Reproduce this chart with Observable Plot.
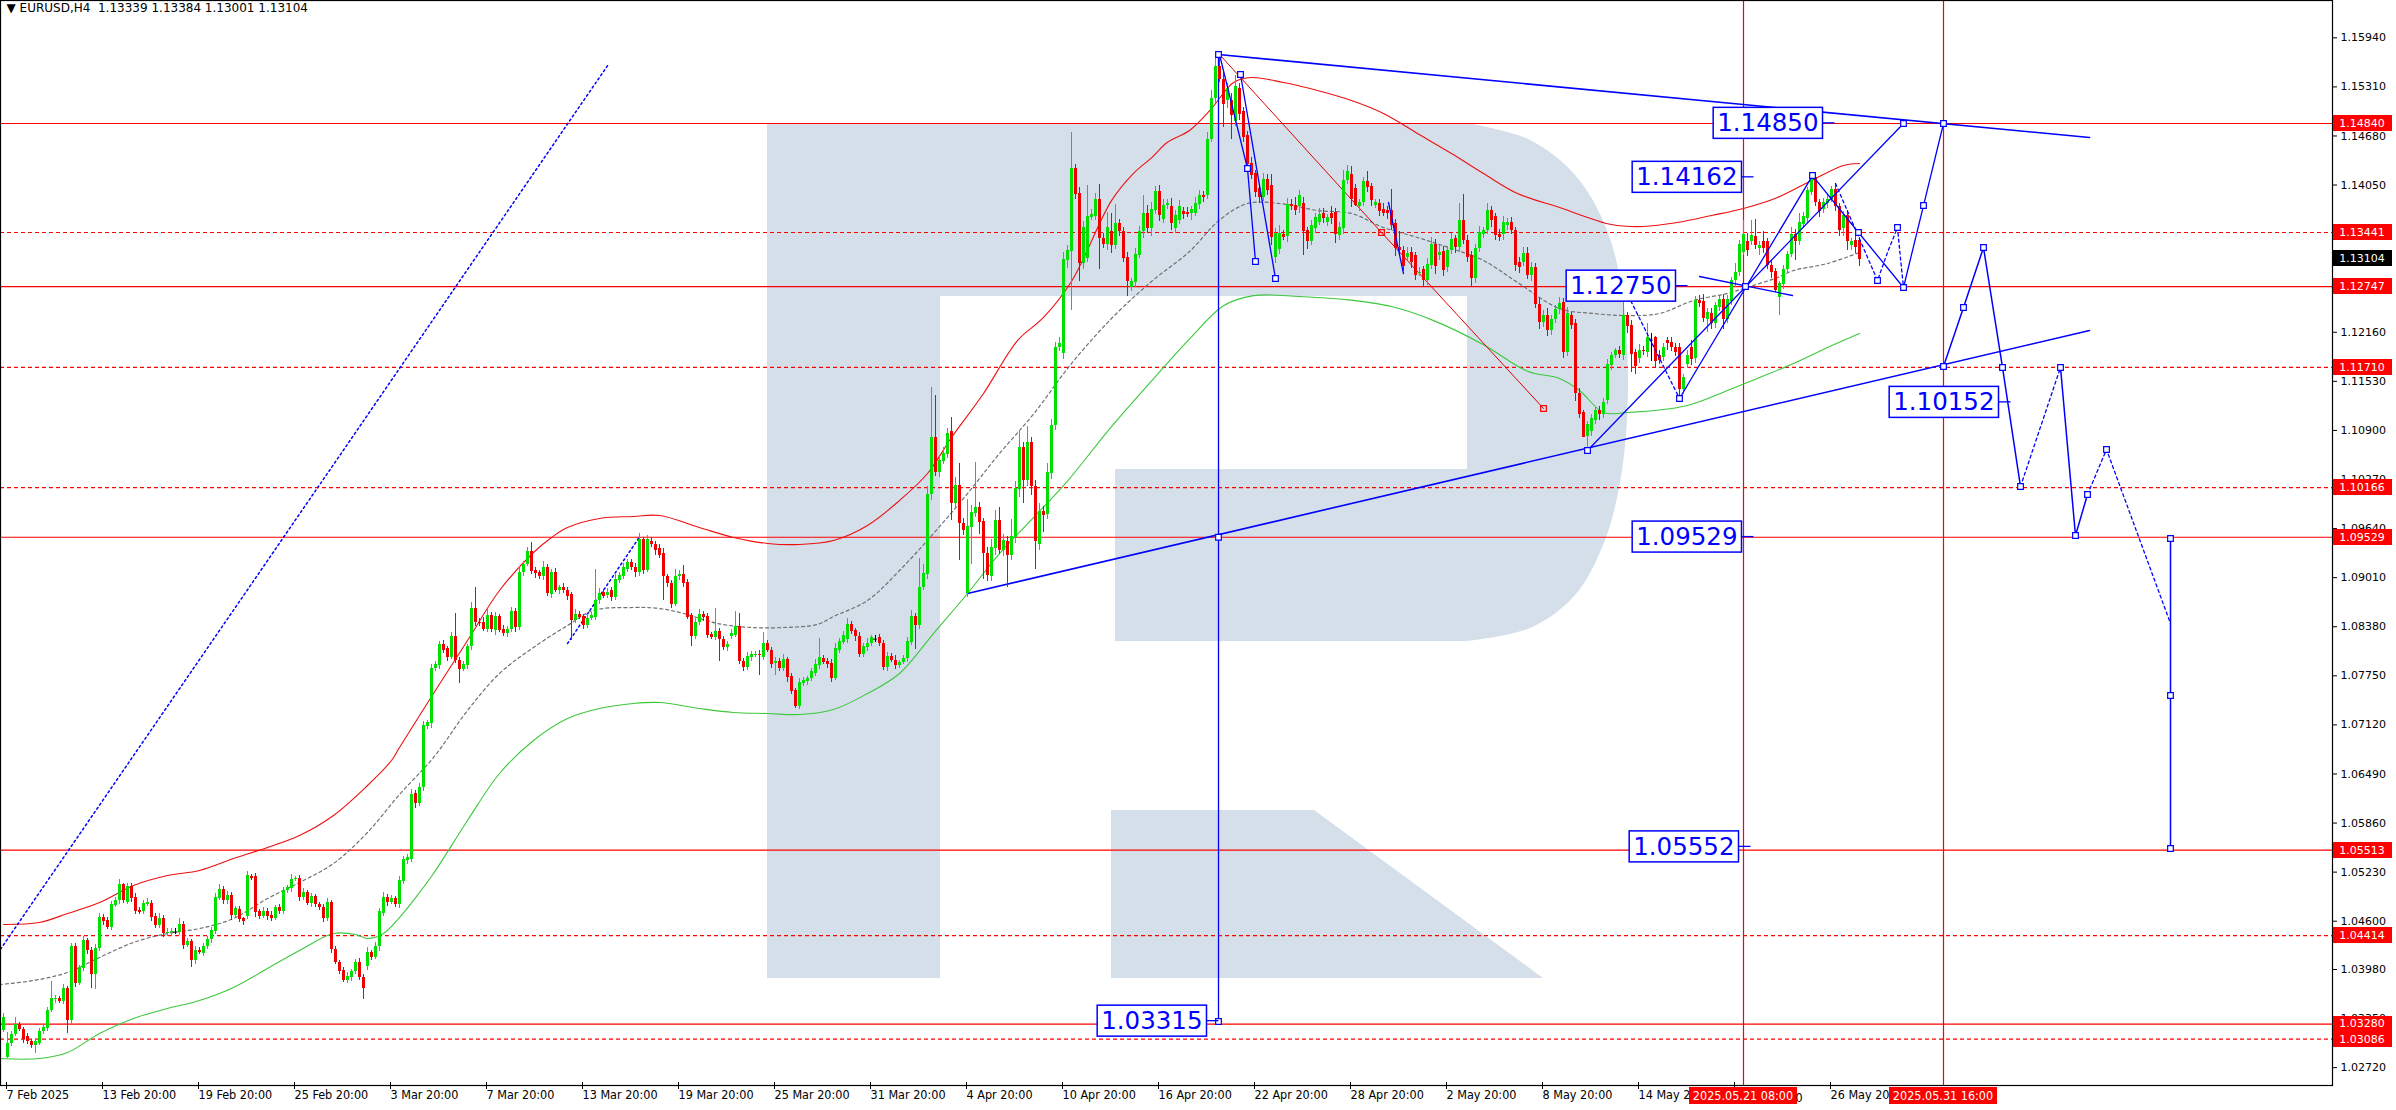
<!DOCTYPE html>
<html><head><meta charset="utf-8">
<script src="https://cdn.jsdelivr.net/npm/d3@7"></script>
<script src="https://cdn.jsdelivr.net/npm/@observablehq/plot@0.6"></script>
<style>
html,body{margin:0;padding:0;background:#fff;}
#chart{position:relative;width:2396px;height:1110px;overflow:hidden;}
</style></head><body><div id="chart"></div>
<script>
// ---- EURUSD H4 candles: prices in pips above 1.0000 (e.g. 1337 -> 1.1337), bar 0 = 7 Feb 2025 20:00
const opens = [
320,285,303,315,328,321,312,306,300,303, 318,322,345,359,361,357,373,332,427,380,
399,435,422,392,425,465,461,452,480,487, 507,484,505,490,474,473,482,483,466,454,
464,444,445,446,446,456,429,434,409,422, 419,427,436,447,489,501,486,493,467,475,
463,466,517,517,472,466,472,467,464,477, 472,499,502,514,515,491,497,483,492,481,
478,464,484,424,407,397,384,388,395,407, 388,402,420,414,427,470,491,484,489,481,
511,538,539,624,611,631,710,714,784,788, 815,810,799,825,795,783,788,812,861,844,
844,835,852,833,851,834,829,834,857,837, 907,918,934,910,907,902,914,880,907,884,
888,885,879,846,854,851,840,849,850,872, 882,878,885,875,898,902,912,921,914,907,
950,910,948,944,938,932,902,894,867,902, 905,895,852,825,843,854,851,828,824,832,
821,811,825,827,838,793,786,798,801,802, 799,816,808,791,793,784,796,774,756,735,
765,768,771,778,788,797,794,791,772,808, 818,822,841,833,825,802,811,816,822,824,
817,786,800,795,788,792,797,818,851,840, 888,905,1008,1081,1036,1050,1059,1088,996,1019,
971,881,966,984,991,973,932,902,939,975, 936,948,929,953,1014,1068,1026,1075,1018,944,
986,982,1035,1096,1196,1189,1308,1320,1426,1394, 1304,1311,1363,1365,1386,1337,1329,1345,1327,1355,
1346,1312,1273,1280,1315,1345,1369,1349,1372,1397, 1361,1379,1378,1349,1359,1371,1370,1368,1369,1380,
1392,1392,1464,1516,1557,1541,1513,1514,1486,1529, 1499,1469,1433,1420,1400,1389,1412,1404,1312,1322,
1342,1339,1380,1379,1377,1381,1347,1332,1349,1357, 1369,1357,1369,1370,1340,1349,1411,1419,1400,1377,
1383,1409,1403,1379,1381,1373,1372,1372,1355,1325, 1321,1312,1319,1314,1291,1296,1282,1302,1329,1314,
1320,1299,1321,1336,1325,1359,1334,1315,1285,1323, 1342,1347,1372,1364,1342,1342,1353,1357,1347,1306,
1306,1317,1289,1299,1252,1228,1238,1218,1232,1245, 1254,1190,1237,1227,1138,1113,1082,1088,1103,1115,
1111,1128,1173,1186,1192,1186,1237,1225,1190,1182, 1192,1190,1206,1209,1186,1184,1205,1203,1197,1197,
1142,1175,1197,1182,1257,1255,1233,1240,1227,1248, 1258,1233,1255,1282,1293,1319,1333,1333,1339,1323,
1333,1332,1302,1294,1261,1277,1296,1316,1342,1333, 1354,1362,1396,1415,1383,1373,1381,1387,1399,1377,
1349,1366,1327,1334,1334];
const closes = [
337,303,315,328,321,308,305,300,305,319, 323,345,361,361,357,373,333,427,380,400,
435,422,392,425,465,459,452,481,487,507, 487,505,489,473,471,483,484,465,454,464,
444,446,447,446,456,429,434,409,423,420, 428,437,448,490,501,487,493,467,476,462,
459,519,515,471,466,472,466,464,477,472, 499,503,514,515,491,497,483,492,481,477,
463,484,424,407,396,384,389,395,407,388, 374,420,414,428,472,491,484,489,482,512,
539,542,623,611,632,711,715,784,789,815, 808,799,825,795,783,789,812,861,844,842,
835,852,835,851,833,829,834,857,837,908, 918,934,909,906,902,914,881,907,885,888,
884,877,846,854,850,840,849,852,872,881, 877,882,875,899,904,914,920,914,907,950,
910,950,944,936,929,902,893,867,903,905, 894,850,825,844,854,850,827,824,832,821,
811,815,829,838,793,786,800,803,802,801, 816,808,790,793,784,796,773,755,735,766,
769,771,780,790,798,792,789,772,810,819, 827,841,832,825,802,812,817,824,822,817,
786,800,795,788,792,797,819,851,840,889, 906,1008,1081,1036,1051,1060,1086,996,1019,970,
961,967,985,991,972,932,904,940,975,936, 949,929,954,1015,1068,1026,1075,1018,948,986,
981,1036,1096,1197,1201,1309,1321,1426,1393,1304, 1350,1364,1367,1386,1336,1329,1350,1327,1355,1345,
1311,1281,1281,1316,1346,1369,1349,1374,1397,1366, 1379,1381,1355,1366,1377,1367,1367,1374,1381,1392,
1389,1464,1516,1557,1541,1508,1529,1494,1531,1496, 1466,1432,1417,1395,1389,1412,1398,1338,1343,1343,
1338,1380,1377,1372,1392,1345,1332,1353,1363,1367, 1362,1363,1362,1342,1351,1411,1422,1386,1379,1383,
1409,1402,1385,1382,1371,1369,1369,1353,1323,1321, 1300,1317,1306,1289,1293,1282,1303,1329,1300,1319,
1295,1321,1335,1325,1359,1334,1312,1285,1323,1344, 1347,1372,1359,1340,1338,1357,1357,1347,1302,1299,
1317,1289,1299,1252,1228,1238,1218,1232,1245,1253, 1190,1240,1225,1137,1111,1081,1098,1105,1115,1111,
1126,1175,1186,1192,1187,1237,1223,1188,1172,1192, 1191,1209,1206,1179,1180,1197,1201,1197,1190,1142,
1158,1186,1181,1257,1253,1234,1242,1227,1250,1258, 1233,1258,1282,1293,1329,1342,1321,1340,1327,1327,
1323,1302,1293,1270,1278,1297,1316,1342,1333,1357, 1364,1398,1412,1383,1371,1383,1387,1399,1377,1347,
1366,1332,1332,1325,1310];
// upper / lower shadows beyond the body, pips
const upWick = [
4,14,3,8,2,3,4,2,4,3, 5,4,21,3,2,6,3,5,4,3, 6,3,4,5,5,3,4,4,3,6, 2,4,3,5,3,4,5,3,4,6,
3,4,3,4,8,3,4,3,5,4, 3,4,4,5,6,3,5,4,3,4, 2,5,3,4,3,6,4,5,3,4, 4,3,6,3,4,5,3,4,2,3,
4,5,3,4,3,4,5,3,4,5, 3,6,3,5,4,6,3,4,3,5, 4,3,6,4,5,6,3,5,4,4, 5,3,6,30,4,5,3,8,27,4,
6,8,4,5,3,5,4,6,5,7, 4,6,12,4,3,8,4,5,6,3, 5,4,3,6,4,3,5,4,40,6, 4,5,3,6,4,5,4,3,5,8,
3,5,4,3,5,6,3,4,9,5, 12,4,3,5,6,3,4,3,29,4, 5,4,6,19,17,4,5,3,4,5, 14,4,3,5,4,6,3,4,3,5,
4,3,5,6,25,4,3,5,6,4, 5,8,4,3,5,4,6,3,5,4, 3,5,4,6,3,4,5,8,4,36, 12,10,64,54,5,8,6,19,10,28,
6,34,8,58,6,4,8,10,12,16, 8,6,22,10,22,6,20,6,8,10, 6,12,8,6,8,10,6,46,6,8, 8,41,6,8,20,6,20,23,25,6,
5,6,4,8,6,22,10,8,6,8, 8,6,10,6,8,5,6,4,8,6, 5,8,10,12,16,8,6,8,15,6, 6,5,8,4,6,8,6,15,6,10,
5,8,6,10,6,8,4,6,5,8, 6,4,8,5,6,13,8,10,6,4, 6,13,4,5,6,8,5,27,6,20, 5,8,6,4,6,5,8,9,6,8,
6,5,8,4,22,34,6,5,6,8, 4,9,6,5,6,8,5,6,4,6, 8,8,6,5,8,6,8,5,6,8, 6,8,4,5,6,3,4,5,4,6,
5,6,4,3,6,26,5,6,4,8, 6,18,8,1,6,5,4,6,5,4, 4,6,8,5,6,9,5,6,4,5, 6,5,4,11,5,18,10,20,22,6,
12,5,6,4,3,5,4,8,6,12, 6,4,5,6,4,5,6,4,8,4, 5,6,4,8,4];
const dnWick = [
3,1,4,3,2,5,3,4,10,3, 4,3,2,5,3,4,17,4,5,3, 4,5,18,20,4,5,3,4,3,5, 4,3,5,4,3,4,3,5,4,3,
5,3,4,3,4,5,3,9,4,3, 4,3,5,4,3,5,4,6,3,4, 5,4,3,6,4,3,5,4,3,4, 3,4,5,3,6,4,3,5,4,3,
5,4,6,3,4,3,4,5,3,4, 15,5,4,3,6,4,5,3,4,5, 4,5,3,6,4,5,4,6,3,5, 4,6,3,4,18,3,5,4,6,4,
3,5,4,6,3,4,5,3,6,4, 5,3,4,6,3,5,4,6,3,4, 3,5,26,4,3,5,4,3,4,5, 3,4,5,3,4,3,5,4,6,4,
5,3,4,6,3,30,4,5,3,4, 5,3,12,4,3,5,4,3,4,27, 3,5,4,3,3,6,4,5,3,26, 4,3,5,16,4,3,6,4,2,3,
4,5,3,4,5,3,4,6,3,4, 3,5,4,6,3,4,5,3,4,5, 4,6,3,5,4,3,5,4,31,5, 4,6,8,5,6,4,5,22,6,47,
6,5,48,6,15,33,8,6,10,5, 8,40,6,8,10,30,8,12,36,8, 22,6,8,6,5,8,10,76,6,23, 8,6,4,6,40,6,8,10,5,6,
6,19,5,6,4,8,6,10,5,8, 6,5,8,6,5,6,4,8,5,6, 6,5,4,6,4,29,10,30,6,8, 6,8,5,6,8,5,6,10,8,6,
4,8,5,6,8,31,10,5,6,4, 6,5,8,12,6,8,5,10,2,6, 5,6,8,4,6,5,8,6,10,8, 6,5,8,6,4,8,6,5,10,6,
8,6,5,8,6,5,6,10,6,5, 5,6,8,6,5,8,6,5,8,8, 6,5,8,6,8,6,8,6,5,6, 8,5,6,10,6,0,17,6,5,8,
6,5,6,4,5,6,8,23,10,6, 5,6,28,10,6,5,8,6,5,11, 6,5,8,6,5,6,17,8,6,5, 13,6,5,8,6,5,8,6,5,8,
6,5,8,3,23,6,5,4,25,6, 5,6,4,6,8,5,6,4,6,8, 10,11,6,8,10];

// ---- indicator envelope lines: [bar, price]
const upperBand = [[0,1.04558],[9,1.04583],[16,1.04699],[24,1.04840],[32.5,1.05058],[41,1.05186],[49,1.05251],[57.5,1.05405],[66,1.05546],[74,1.05700],[82.5,1.05957],[91,1.06342],[97,1.06663],[99,1.06830],[107.5,1.07523],[116,1.08203],[124,1.08845],[132.5,1.09333],[137,1.09526],[141,1.09654],[149,1.09770],[157.5,1.09795],[164,1.09808],[174,1.09654],[182.5,1.09526],[191,1.09449],[199,1.09436],[207.5,1.09487],[216,1.09680],[224,1.10000],[231,1.10347],[237,1.10809],[245,1.11374],[253.5,1.12054],[260,1.12350],[267,1.12812],[277,1.13850],[282.5,1.14200],[287,1.14400],[291,1.14600],[296.5,1.14750],[302,1.15032],[307.5,1.15366],[312,1.15430],[320,1.15366],[328.5,1.15264],[337,1.15135],[345,1.14969],[353.5,1.14712],[362,1.14455],[370,1.14198],[378.5,1.13941],[389,1.13762],[402,1.13543],[410,1.13518],[418.5,1.13569],[427,1.13659],[435,1.13749],[443.5,1.13890],[452,1.14108],[460,1.14301],[464,1.14326]];
const middleBand = [[-1,1.03787],[7.5,1.03839],[16,1.03942],[24,1.04134],[32.5,1.04327],[41,1.04442],[49,1.04506],[57.5,1.04635],[66,1.04891],[74,1.05097],[82.5,1.05341],[91,1.05739],[99,1.06227],[107.5,1.06702],[116,1.07305],[124,1.07780],[132.5,1.08114],[141,1.08396],[147.5,1.08589],[157.5,1.08627],[164,1.08614],[170,1.08550],[178.5,1.08422],[187,1.08370],[195,1.08370],[203.5,1.08410],[207.5,1.08511],[216,1.08717],[224,1.09102],[232.5,1.09577],[241,1.10090],[249,1.10604],[257.5,1.11110],[267,1.11759],[277,1.12337],[287,1.12812],[296.5,1.13197],[304,1.13600],[311,1.13813],[319,1.13813],[328.5,1.13723],[337,1.13685],[345,1.13505],[353.5,1.13377],[362,1.13235],[370,1.13081],[378.5,1.12800],[389,1.12465],[397.5,1.12401],[406,1.12375],[414,1.12401],[422.5,1.12568],[431,1.12658],[435,1.12722],[443.5,1.12863],[447.5,1.12953],[456,1.13043],[464,1.13184]];
const lowerBand = [[-1,1.02837],[9,1.02837],[16,1.02914],[24,1.03158],[32.5,1.03351],[41,1.03479],[49,1.03582],[57.5,1.03749],[66,1.03993],[74,1.04224],[82.5,1.04442],[88,1.04430],[91,1.04378],[95,1.04442],[99,1.04647],[104,1.04968],[107.5,1.05212],[116,1.05893],[124,1.06496],[132.5,1.06920],[141,1.07202],[149,1.07330],[157.5,1.07395],[164,1.07407],[174,1.07330],[182.5,1.07279],[191,1.07266],[199,1.07253],[207.5,1.07318],[216,1.07523],[224,1.07780],[232.5,1.08293],[241,1.08807],[249,1.09320],[257.5,1.09782],[266,1.10250],[277,1.10950],[289,1.11650],[297,1.12100],[305,1.12500],[312.5,1.12630],[324,1.12620],[335.5,1.12580],[347,1.12490],[358,1.12300],[370,1.12000],[381,1.11660],[389,1.11567],[394,1.11413],[400,1.11130],[406,1.11130],[421,1.11220],[431,1.11413],[439,1.11579],[447.5,1.11759],[456,1.11964],[464,1.12144]];

// ---- horizontal levels
const solidLevels = [1.14840, 1.12747, 1.09529, 1.05513, 1.03280];
const dashedLevels = [1.13441, 1.11710, 1.10166, 1.04414, 1.03086];
const levelLabels = [1.14840, 1.13441, 1.12747, 1.11710, 1.10166, 1.09529, 1.05513, 1.04414, 1.03280, 1.03086];
const lastPrice = 1.13104;
const timeLines = [435, 485];
const timeLineLabels = ["2025.05.21 08:00", "2025.05.31 16:00"];

// ---- axes (labels as far as they are visible beside the red time tags)
const priceTicks = [1.15940,1.15310,1.14680,1.14050,1.13420,1.12790,1.12160,1.11530,1.10900,1.10270,1.09640,1.09010,1.08380,1.07750,1.07120,1.06490,1.05860,1.05230,1.04600,1.03980,1.03350,1.02720];
const timeTicks = [0,24,48,72,96,120,144,168,192,216,240,264,288,312,336,360,384,408,432,456];
const timeLabels = ["7 Feb 2025","13 Feb 20:00","19 Feb 20:00","25 Feb 20:00","3 Mar 20:00","7 Mar 20:00","13 Mar 20:00","19 Mar 20:00","25 Mar 20:00","31 Mar 20:00","4 Apr 20:00","10 Apr 20:00","16 Apr 20:00","22 Apr 20:00","28 Apr 20:00","2 May 20:00","8 May 20:00","14 May 20","","26 May 20:"];
const hiddenTickTail = {tick: 432, text: "0"};
const header = "EURUSD,H4  1.13339 1.13384 1.13001 1.13104";

// ---- analysis drawings: [bar, price]
const dottedRay = [[-0.75,1.0424],[151.25,1.1560]];
const dottedShort = [[141,1.08165],[158.75,1.09513]];
const verticalDrop = [[303.75,1.15726],[303.75,1.03313]];
const topTrend = [[303.75,1.15726],[521.5,1.14660]];
const bottomTrend = [[241,1.08807],[521.5,1.12183]];
const redDiagonal = [[304,1.15726],[344.5,1.13441],[385,1.11182]];
const zigA = [[304,1.15726],[311,1.14262],[313,1.13068]];
const zigB = [[309.25,1.15469],[318,1.12850]];
const shortBlue = [[346.25,1.13826],[350,1.12914]];
const riseA = [[396,1.10642],[475,1.14840]];
const waveB = [[419,1.11310],[452.25,1.14172],[463.75,1.13441],[475,1.12735],[480,1.13787],[485,1.14840]];
const dotToLow = [[405.5,1.12700],[419,1.11310]];
const wedge = [[424,1.12876],[447.25,1.12632]];
const dottedWave = [[458,1.14070],[468.5,1.12825],[471,1.13184],[473.5,1.13505],[474.25,1.13107],[475,1.12735]];
const forecastA = [[485,1.11720],[490,1.12478],[495,1.13248],[499.75,1.11708],[504.25,1.10180]];
const forecastDot1 = [[504.25,1.10180],[514.25,1.11708]];
const forecastB = [[514.25,1.11708],[518,1.09551],[521,1.10078]];
const forecastDot2 = [[521,1.10078],[525.75,1.10655],[541.75,1.08422]];
const forecastDrop = [[541.75,1.09513],[541.75,1.05533]];
const blueSquares = [[303.75,1.15726],[303.75,1.03313],[303.75,1.09529],[309.25,1.15469],[311,1.14262],[313,1.13068],[318,1.12850],[396,1.10642],[419,1.11310],[435.5,1.12748],[452.25,1.14172],[463.75,1.13441],[475,1.12735],[475,1.14840],[480,1.13787],[485,1.14840],[485,1.11720],[490,1.12478],[495,1.13248],[499.75,1.11708],[504.25,1.10180],[514.25,1.11708],[518,1.09551],[521,1.10078],[525.75,1.10655],[541.75,1.09513],[541.75,1.07497],[541.75,1.05533],[468.5,1.12825],[473.5,1.13505]];
const redSquares = [[344.5,1.13441],[385,1.11182]];
const priceBoxes = [
  {t:"1.14850", b:455, p:1.14840},
  {t:"1.14162", b:434.75, p:1.14147},
  {t:"1.12750", b:418.25, p:1.12750},
  {t:"1.10152", b:499, p:1.11258},
  {t:"1.09529", b:434.75, p:1.09529},
  {t:"1.05552", b:434, p:1.05552},
  {t:"1.03315", b:301, p:1.03315}
];
// watermark logo outline
const logoRects = [
  {x1:191, x2:234.25, y1:1.03864, y2:1.14840},
  {x1:191, x2:366, y1:1.12619, y2:1.14840},
  {x1:278, x2:366, y1:1.08190, y2:1.10398}
];
const logoBowl = [[366,1.14840],[381.75,1.14622],[393,1.14172],[400.5,1.13531],[404.75,1.12696],[406.25,1.11515],[404.75,1.10386],[400.5,1.09487],[393,1.08781],[381.75,1.08357],[366,1.08190]];
const logoLeg = [[385,1.03864],[327.75,1.06021]];
const logoLegLeft = 277;

// ---------------------------------------------------------------
const BULL = "#00e000", BEAR = "#ee0000", BLUE = "#0000ff", RED = "#ff0000", LOGO = "#d4dfea";
const n = Math.min(opens.length, closes.length, upWick.length, dnWick.length);
const bars = d3.range(n).map(i => {
  const o = opens[i], c = closes[i];
  const top = Math.max(o, c), bot = Math.min(o, c);
  return {i, o: 1 + o / 1e4, c: 1 + c / 1e4, h: 1 + (top + upWick[i]) / 1e4, l: 1 + (bot - dnWick[i]) / 1e4,
    dir: c > o ? "up" : c < o ? "down" : "doji"};
});
const col = d => d.dir === "up" ? BULL : d.dir === "down" ? BEAR : "#000";
const X = d => d[0], Y = d => d[1];
const tl = new Map(timeTicks.map((t, k) => [t, timeLabels[k]]));
const F = "DejaVu Sans, Verdana, sans-serif";
const FC = "DejaVu Sans Condensed, Liberation Sans Narrow, DejaVu Sans, sans-serif";
const ln = (data, o = {}) => Plot.line(data, {x: X, y: Y, stroke: BLUE, strokeWidth: 1.3, ...o});

const plot = Plot.plot({
  width: 2396, height: 1110,
  marginLeft: 0, marginRight: 64, marginTop: 0, marginBottom: 25,
  style: {background: "#fff", fontFamily: F, color: "#000"},
  x: {domain: [-0.75, 582.25], axis: null},
  y: {domain: [1.02491, 1.16419], axis: null},
  marks: [
    // watermark
    Plot.rect(logoRects, {x1: "x1", x2: "x2", y1: "y1", y2: "y2", fill: LOGO}),
    Plot.areaX(logoBowl, {y: Y, x1: () => 366, x2: X, fill: LOGO, curve: "catmull-rom"}),
    Plot.areaX(logoLeg, {y: Y, x1: () => logoLegLeft, x2: X, fill: LOGO}),
    // levels
    Plot.ruleY(solidLevels, {stroke: RED, strokeWidth: 1.2}),
    Plot.ruleY(dashedLevels, {stroke: RED, strokeWidth: 1.2, strokeDasharray: "4,3"}),
    Plot.ruleX(timeLines, {stroke: RED, strokeWidth: 1.2}),
    // envelopes
    Plot.line(upperBand, {x: X, y: Y, stroke: "#ee1010", strokeWidth: 1.1, curve: "catmull-rom"}),
    Plot.line(middleBand, {x: X, y: Y, stroke: "#707070", strokeWidth: 1.2, strokeDasharray: "3,3", curve: "catmull-rom"}),
    Plot.line(lowerBand, {x: X, y: Y, stroke: "#3cc83c", strokeWidth: 1.1, curve: "catmull-rom"}),
    // drawings behind candles
    ln(dottedRay, {strokeDasharray: "2,3", strokeWidth: 1.5}),
    ln(dottedShort, {strokeDasharray: "2,3", strokeWidth: 1.5}),
    ln(verticalDrop),
    ln(topTrend, {strokeWidth: 1.6}),
    ln(bottomTrend, {strokeWidth: 1.6}),
    Plot.line(redDiagonal, {x: X, y: Y, stroke: "#e00000", strokeWidth: 1}),
    // candles
    Plot.ruleX(bars, {x: "i", y1: "l", y2: "h", stroke: col, strokeWidth: 1, shapeRendering: "crispEdges"}),
    Plot.ruleX(bars.filter(d => d.dir !== "doji"), {x: "i", y1: "o", y2: "c", stroke: col, strokeWidth: 3, shapeRendering: "crispEdges"}),
    Plot.ruleY(bars.filter(d => d.dir === "doji"), {y: "o", x1: d => d.i - 0.45, x2: d => d.i + 0.45, stroke: "#000", strokeWidth: 1}),
    // drawings over candles
    ln(zigA), ln(zigB), ln(shortBlue),
    ln(riseA), ln(waveB), ln(wedge),
    ln(dotToLow, {strokeDasharray: "3,3"}),
    ln(dottedWave, {strokeDasharray: "3,3"}),
    ln(forecastA, {strokeWidth: 1.5}),
    ln(forecastDot1, {strokeDasharray: "3,3"}),
    ln(forecastB, {strokeWidth: 1.5}),
    ln(forecastDot2, {strokeDasharray: "3,3"}),
    ln(forecastDrop, {strokeWidth: 1.5}),
    Plot.dot(blueSquares, {x: X, y: Y, symbol: "square", r: 3.2, stroke: BLUE, fill: "#fff", strokeWidth: 1.2}),
    Plot.dot(redSquares, {x: X, y: Y, symbol: "square", r: 3.2, stroke: RED, fill: "none", strokeWidth: 1.2}),
    // price boxes (frames added below)
    Plot.text(priceBoxes, {x: "b", y: "p", text: "t", textAnchor: "end", dx: -5, fontSize: 24.5, fill: BLUE, fontFamily: F}),
    // axes & frame
    Plot.axisY({anchor: "right", ticks: priceTicks, tickFormat: d => d.toFixed(5), tickSize: 4, tickPadding: 4, fontSize: 11, fontFamily: F}),
    Plot.axisX({anchor: "bottom", ticks: timeTicks, tickFormat: d => tl.get(d), tickSize: 7, tickPadding: 1, textAnchor: "start", dx: 3, dy: -3, fontSize: 12.5, fontFamily: FC}),
    Plot.frame({stroke: "#000", strokeWidth: 1.2}),
    Plot.text([header], {frameAnchor: "top-left", text: d => "\u25BC " + d.replace(/  /g, "\u00a0\u00a0"), dx: 6, dy: 3, fontSize: 12, fill: "#000", textAnchor: "start", lineAnchor: "top", fontFamily: F})
  ]
});
document.getElementById("chart").appendChild(plot);

// ---- overlays placed through the plot's scales
const svg = d3.select(plot);
const xs = plot.scale("x"), ys = plot.scale("y");
const edge = xs.range[1];
// frames around the blue price labels, with a short leader to the right
const boxTexts = new Set(priceBoxes.map(d => d.t));
const boxNodes = svg.selectAll("text").filter(function () { return boxTexts.has(this.textContent); }).nodes();
boxNodes.forEach(node => {
  const bb = node.getBBox();
  const x0 = bb.x - 4, y0 = bb.y - 1, w = bb.width + 8, h = bb.height + 2;
  const g = d3.select(node.parentNode);
  const t = node.getAttribute("transform");
  g.insert("rect", () => node.parentNode.firstChild)
    .attr("transform", t)
    .attr("x", x0).attr("y", y0).attr("width", w).attr("height", h)
    .attr("fill", "#fff").attr("stroke", BLUE).attr("stroke-width", 1.5);
  g.insert("line", () => node.parentNode.firstChild)
    .attr("transform", t)
    .attr("x1", x0 + w).attr("x2", x0 + w + 12).attr("y1", y0 + h / 2).attr("y2", y0 + h / 2)
    .attr("stroke", BLUE).attr("stroke-width", 1.3);
});
// right-side level labels
const tag = (v, bg) => {
  const y = ys.apply(v);
  svg.append("rect").attr("x", edge + 1).attr("y", Math.round(y) - 8).attr("width", 59).attr("height", 16).attr("fill", bg);
  svg.append("text").attr("x", edge + 30).attr("y", y).attr("dy", "0.36em").attr("text-anchor", "middle")
    .attr("fill", "#fff").attr("font-size", 11).attr("font-family", F).text(v.toFixed(5));
};
levelLabels.forEach(v => tag(v, RED));
tag(lastPrice, "#000");
// bottom time labels of the vertical lines
const yb = ys.range[0];
timeLines.forEach((b, k) => {
  const x = xs.apply(b);
  svg.append("rect").attr("x", x - 54).attr("y", yb + 2).attr("width", 108).attr("height", 17).attr("fill", RED);
  svg.append("text").attr("x", x).attr("y", yb + 11).attr("dy", "0.35em").attr("text-anchor", "middle")
    .attr("fill", "#fff").attr("font-size", 12.5).attr("font-family", FC).text(timeLineLabels[k]);
});
// visible tail of the tick label hidden behind the first red time tag
svg.append("text").attr("x", xs.apply(timeLines[0]) + 56).attr("y", yb + 8).attr("dy", "0.71em")
  .attr("font-size", 12.5).attr("font-family", FC).attr("fill", "#000").text(hiddenTickTail.text);
</script></body></html>
